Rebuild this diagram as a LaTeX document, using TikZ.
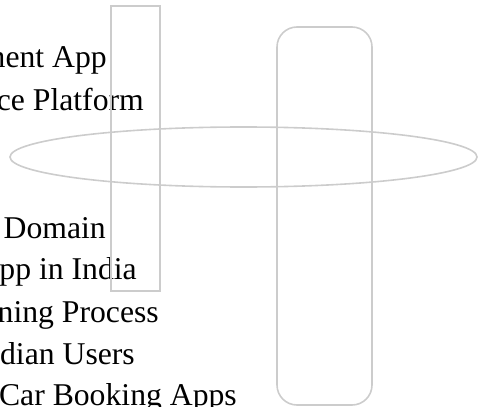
\documentclass[tikz,border=0pt]{standalone}
\usepackage{fontspec}
\setmainfont{Liberation Serif}
\usetikzlibrary{shapes.geometric,positioning}

\begin{document}
\begin{tikzpicture}[x=1pt,y=-1pt,
                    frame/.style={draw=black!20,line width=1.6pt,inner sep=0pt},
                    line/.style={font=\fontsize{31.7}{42}\selectfont,inner sep=0pt,anchor=base east}]
                            % \draw[help lines] (0,0) grid (478,406);
                            \useasboundingbox (0,0) rectangle (478,406);

                            \node[line]  (l_1) at (107,68)  {ment App};
                            \node[line]  (l_2) at (144,111) {ce Platform};
                            \node[line]  (l_3) at (106,238) {Domain};
                            \node[line]  (l_4) at (137,279) {pp in India};
                            \node[line]  (l_5) at (159,322) {ning Process};
                            \node[line]  (l_6) at (135,364) {dian Users};
                            \node[line]  (l_7) at (237,405) {Car Booking Apps};

                            \node[frame,ellipse,minimum width=467pt,minimum height=60pt]  (oval) at (243.5,157) {};
                            \node[frame,rectangle,minimum width=49pt,minimum height=285pt] (bar) at (135.5,148.5) {};
                            \node[frame,rectangle,rounded corners=20pt,minimum width=95pt,minimum height=378pt] (pill) at (324.5,216) {};
                        \end{tikzpicture}
\end{document}
